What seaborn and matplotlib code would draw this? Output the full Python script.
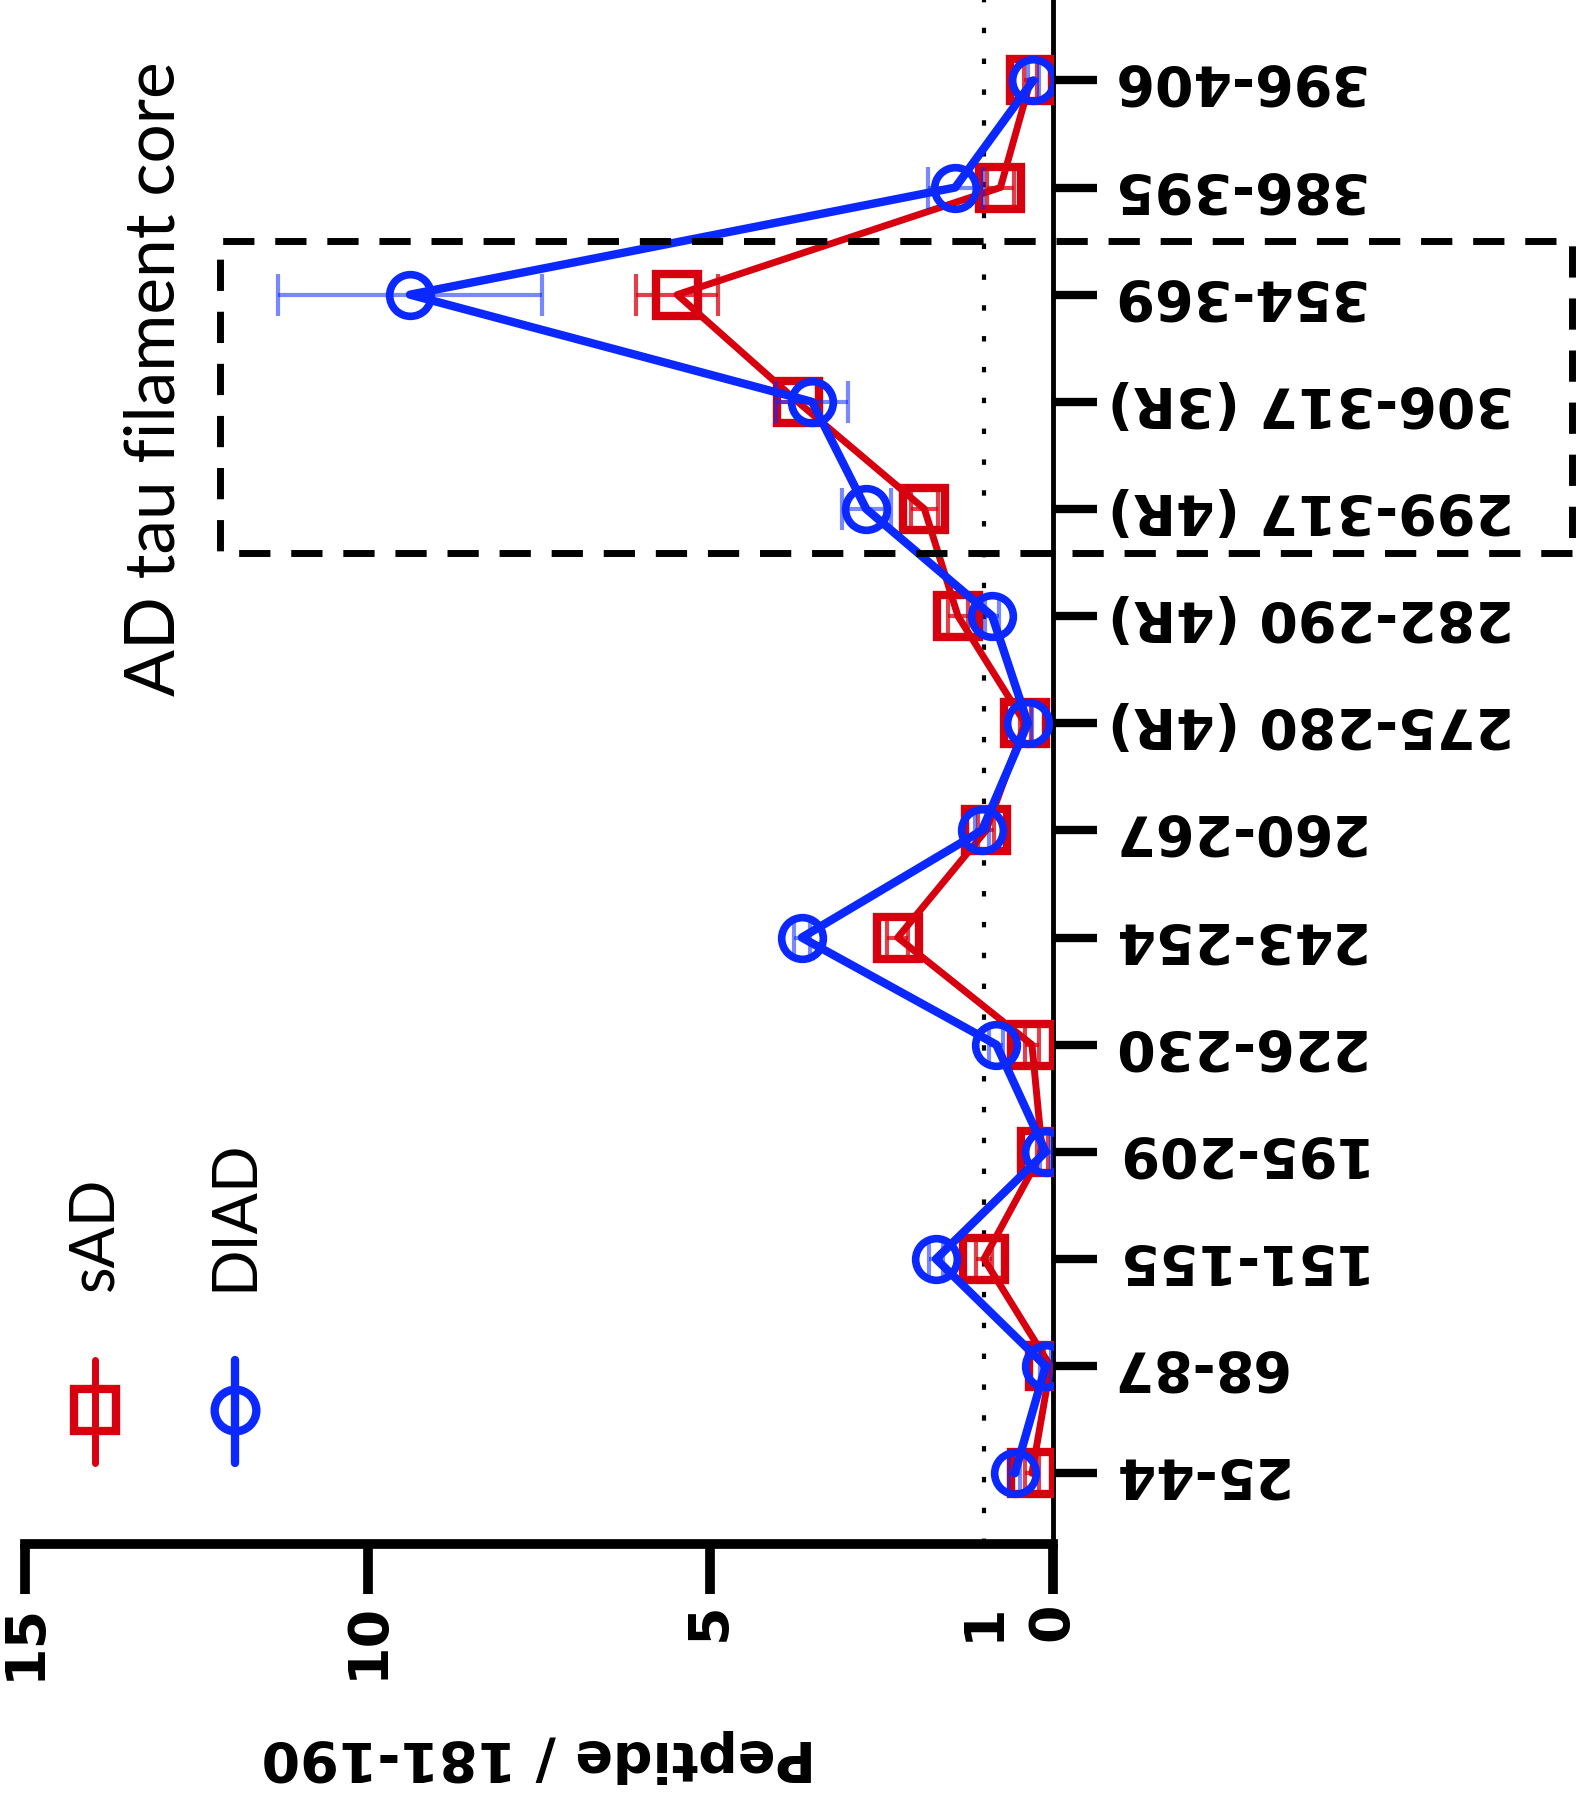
import numpy as np
import pandas as pd
import matplotlib
matplotlib.use("Agg")
import matplotlib.pyplot as plt
from matplotlib.lines import Line2D
from matplotlib.patches import Rectangle
import seaborn as sns

# ---------------- data (bottom -> top on the category axis) ----------------
categories = ["25-44", "68-87", "151-155", "195-209", "226-230", "243-254",
              "260-267", "275-280 (4R)", "282-290 (4R)", "299-317 (4R)",
              "306-317 (3R)", "354-369", "386-395", "396-406"]
sad_mean = [0.30, 0.03, 1.00, 0.15, 0.30, 2.26, 0.97, 0.40, 1.38, 1.87, 3.72, 5.48, 0.76, 0.32]
sad_err = [0.10, 0.10, 0.12, 0.08, 0.10, 0.15, 0.12, 0.08, 0.15, 0.20, 0.30, 0.60, 0.20, 0.10]
diad_mean = [0.55, 0.10, 1.70, 0.10, 0.82, 3.66, 1.03, 0.36, 0.88, 2.72, 3.51, 9.38, 1.42, 0.28]
diad_err = [0.08, 0.08, 0.10, 0.08, 0.10, 0.12, 0.10, 0.06, 0.10, 0.36, 0.52, 1.93, 0.40, 0.08]
value_ticks = [15, 10, 5, 1, 0]
value_ticklabels = ["15", "10", "5", "1", "0"]
groups = ["sAD", "DIAD"]
reference_level = 1
core_box = dict(x0=12.15, x1=-7.58, y0=8.585, y1=11.5)

RED = "#D7000F"
BLUE = "#0A28FF"

sns.set_theme(style="white")
plt.rcParams["font.family"] = ["DejaVu Sans"]
plt.rcParams["text.color"] = "black"
plt.rcParams["axes.labelcolor"] = "black"
plt.rcParams["xtick.color"] = "black"
plt.rcParams["ytick.color"] = "black"

W, H = 1577, 1800
fig = plt.figure(figsize=(W / 100, H / 100), dpi=100)
ax = fig.add_axes([25 / W, (H - 1544) / H, (1052.5 - 25) / W, 1544 / H])

pos = np.arange(len(categories))
df = pd.DataFrame({"pos": np.concatenate([pos, pos]),
                   "value": sad_mean + diad_mean,
                   "group": [groups[0]] * len(pos) + [groups[1]] * len(pos)})

ax.axvline(reference_level, color="black", lw=3, linestyle=(0, (1.3, 6.1)), zorder=1)

# error bars
ax.errorbar(sad_mean, pos, xerr=sad_err, fmt="none", ecolor=RED, alpha=0.75,
            elinewidth=3, capsize=15, capthick=3, zorder=2)
ax.errorbar(diad_mean, pos, xerr=diad_err, fmt="none", ecolor=BLUE, alpha=0.55,
            elinewidth=3, capsize=15, capthick=3, zorder=4)

sns.lineplot(data=df[df.group == "sAD"], x="value", y="pos", orient="y", sort=False,
             estimator=None, ax=ax, color=RED, lw=5, marker="s", markersize=30,
             markerfacecolor="none", markeredgecolor=RED, markeredgewidth=6,
             zorder=3, legend=False)
sns.lineplot(data=df[df.group == "DIAD"], x="value", y="pos", orient="y", sort=False,
             estimator=None, ax=ax, color=BLUE, lw=6, marker="o", markersize=30,
             markerfacecolor="none", markeredgecolor=BLUE, markeredgewidth=5.5,
             zorder=5, legend=False)

ax.set_xlim(15, 0)
ax.set_ylim(-0.66, 13.75)

for s in ["top", "left"]:
    ax.spines[s].set_visible(False)
ax.spines["right"].set_linewidth(3.5)
ax.spines["bottom"].set_linewidth(7)
for s in ["right", "bottom"]:
    ax.spines[s].set_color("black")

ax.yaxis.tick_right()
ax.set_yticks(pos)
ax.set_yticklabels(categories, rotation=180, fontsize=40, fontweight="bold", va="center")
ax.tick_params(axis="y", which="major", right=True, length=32, width=6, pad=8,
               color="black")

ax.set_xticks(value_ticks)
ax.set_xticklabels(value_ticklabels, rotation=90, fontsize=40, fontweight="bold")
ax.tick_params(axis="x", which="major", bottom=True, length=36, width=7, pad=6,
               color="black")
for t, v in zip(ax.xaxis.get_major_ticks(), value_ticks):
    if v == reference_level:
        t.tick1line.set_visible(False)

ax.set_ylabel("")
ax.set_xlabel("Peptide / 181-190", rotation=180, fontsize=40, fontweight="bold")
ax.xaxis.set_label_coords(0.5, (1544 - 1756) / 1544)
ax.xaxis.label.set_va("center")

rect = Rectangle((core_box["x1"], core_box["y0"]), core_box["x0"] - core_box["x1"],
                 core_box["y1"] - core_box["y0"], fill=False, edgecolor="black",
                 lw=5, linestyle=(0, (4.5, 3)), clip_on=False, zorder=6)
ax.add_patch(rect)

fig.text(155 / W, 1 - 379 / H, "AD tau filament core", rotation=90, ha="center",
         va="center", fontsize=50, family=["Lato", "DejaVu Sans"])

# legend (rotated)
leg_items = [(groups[0], RED, "s", 95, 5), (groups[1], BLUE, "o", 235, 6)]
for label, col, mk, xp, lw in leg_items:
    xf = xp / W
    fig.add_artist(Line2D([xf, xf], [1 - 1360 / H, 1 - 1463 / H], color=col, lw=lw,
                          transform=fig.transFigure))
    fig.add_artist(Line2D([xf], [1 - 1410 / H], color=col, marker=mk, markersize=30,
                          markerfacecolor="none", markeredgecolor=col,
                          markeredgewidth=6, transform=fig.transFigure))
    fig.text(xf, 1 - 1291 / H, label, rotation=90, ha="center", va="bottom",
             fontsize=44, family=["Lato", "DejaVu Sans"])

fig.savefig("out.png", dpi=100, facecolor="white")
